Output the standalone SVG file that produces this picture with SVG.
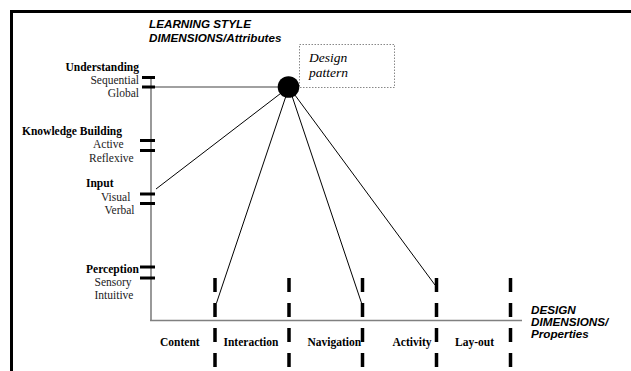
<svg xmlns="http://www.w3.org/2000/svg" width="631" height="371" viewBox="0 0 631 371">
<style>
.frame{fill:none;stroke:#000;stroke-width:3}
.axis{stroke:#808080;stroke-width:1.6;fill:none}
.tick{stroke:#000;stroke-width:3}
.link{stroke:#000;stroke-width:1;fill:none}
.dash{stroke:#000;stroke-width:3.5;stroke-dasharray:14 11}
.hd{font-family:"Liberation Sans",Arial,sans-serif;font-weight:bold;font-style:italic;font-size:11.7px;fill:#000}
.cat{font-family:"Liberation Serif","Times New Roman",serif;font-weight:bold;font-size:11.5px;fill:#000}
.val{font-family:"Liberation Serif","Times New Roman",serif;font-size:11.5px;fill:#222}
.dp{font-family:"Liberation Serif","Times New Roman",serif;font-style:italic;font-size:13.5px;fill:#000}
</style>
<rect width="631" height="371" fill="#fff"/>
<path class="frame" d="M11.5,371 V11.5 H631"/>
<g id="connectors">
<line class="axis" x1="151" y1="77" x2="151" y2="321"/>
<line class="axis" x1="150" y1="320.5" x2="522" y2="320.5"/>
<line class="axis" x1="151" y1="87" x2="289" y2="87"/>
<line class="link" x1="289" y1="87" x2="156" y2="189"/>
<line class="link" x1="289" y1="87" x2="216.5" y2="303"/>
<line class="link" x1="289" y1="87" x2="361.5" y2="303"/>
<line class="link" x1="289" y1="87" x2="435" y2="285"/>
</g>
<g id="ticks">
<line class="tick" x1="142" y1="77.5" x2="155" y2="77.5"/>
<line class="tick" x1="142" y1="87" x2="155" y2="87"/>
<line class="tick" x1="140" y1="140.5" x2="155" y2="140.5"/>
<line class="tick" x1="140" y1="150.5" x2="155" y2="150.5"/>
<line class="tick" x1="140" y1="194" x2="155" y2="194"/>
<line class="tick" x1="140" y1="203.5" x2="155" y2="203.5"/>
<line class="tick" x1="140" y1="267" x2="155" y2="267"/>
<line class="tick" x1="140" y1="278" x2="155" y2="278"/>
</g>
<g id="dividers">
<line class="dash" x1="215" y1="278" x2="215" y2="371"/>
<line class="dash" x1="289" y1="278" x2="289" y2="371"/>
<line class="dash" x1="362.5" y1="278" x2="362.5" y2="371"/>
<line class="dash" x1="436.5" y1="278" x2="436.5" y2="371"/>
<line class="dash" x1="510.5" y1="278" x2="510.5" y2="371"/>
</g>
<g id="learning-style-title">
<text class="hd" x="149" y="27.5">LEARNING STYLE</text>
<text class="hd" x="149" y="41.5">DIMENSIONS/Attributes</text>
</g>
<g id="understanding">
<text class="cat" x="139" y="71" text-anchor="end">Understanding</text>
<text class="val" x="139" y="84" text-anchor="end">Sequential</text>
<text class="val" x="139" y="97" text-anchor="end">Global</text>
</g>
<g id="knowledge-building">
<text class="cat" x="22" y="135">Knowledge Building</text>
<text class="val" x="93" y="148">Active</text>
<text class="val" x="89" y="161.5">Reflexive</text>
</g>
<g id="input">
<text class="cat" x="86" y="187">Input</text>
<text class="val" x="101" y="200.5">Visual</text>
<text class="val" x="104.5" y="214">Verbal</text>
</g>
<g id="perception">
<text class="cat" x="86" y="272.5">Perception</text>
<text class="val" x="94.5" y="285.5">Sensory</text>
<text class="val" x="94.5" y="299">Intuitive</text>
</g>
<g id="design-pattern">
<rect x="299.5" y="44.5" width="95" height="43" fill="none" stroke="#888" stroke-width="1" stroke-dasharray="1.5 1.5"/>
<text class="dp" x="309" y="62">Design</text>
<text class="dp" x="309" y="77">pattern</text>
<circle cx="288.5" cy="87" r="10.8" fill="#000"/>
</g>
<g id="design-dimensions">
<text class="hd" x="531" y="314">DESIGN</text>
<text class="hd" x="531" y="326">DIMENSIONS/</text>
<text class="hd" x="531" y="338">Properties</text>
</g>
<g id="categories">
<text class="cat" x="160" y="346">Content</text>
<text class="cat" x="223.5" y="346">Interaction</text>
<text class="cat" x="307.5" y="346">Navigation</text>
<text class="cat" x="392.5" y="346">Activity</text>
<text class="cat" x="455" y="346">Lay-out</text>
</g>
</svg>
